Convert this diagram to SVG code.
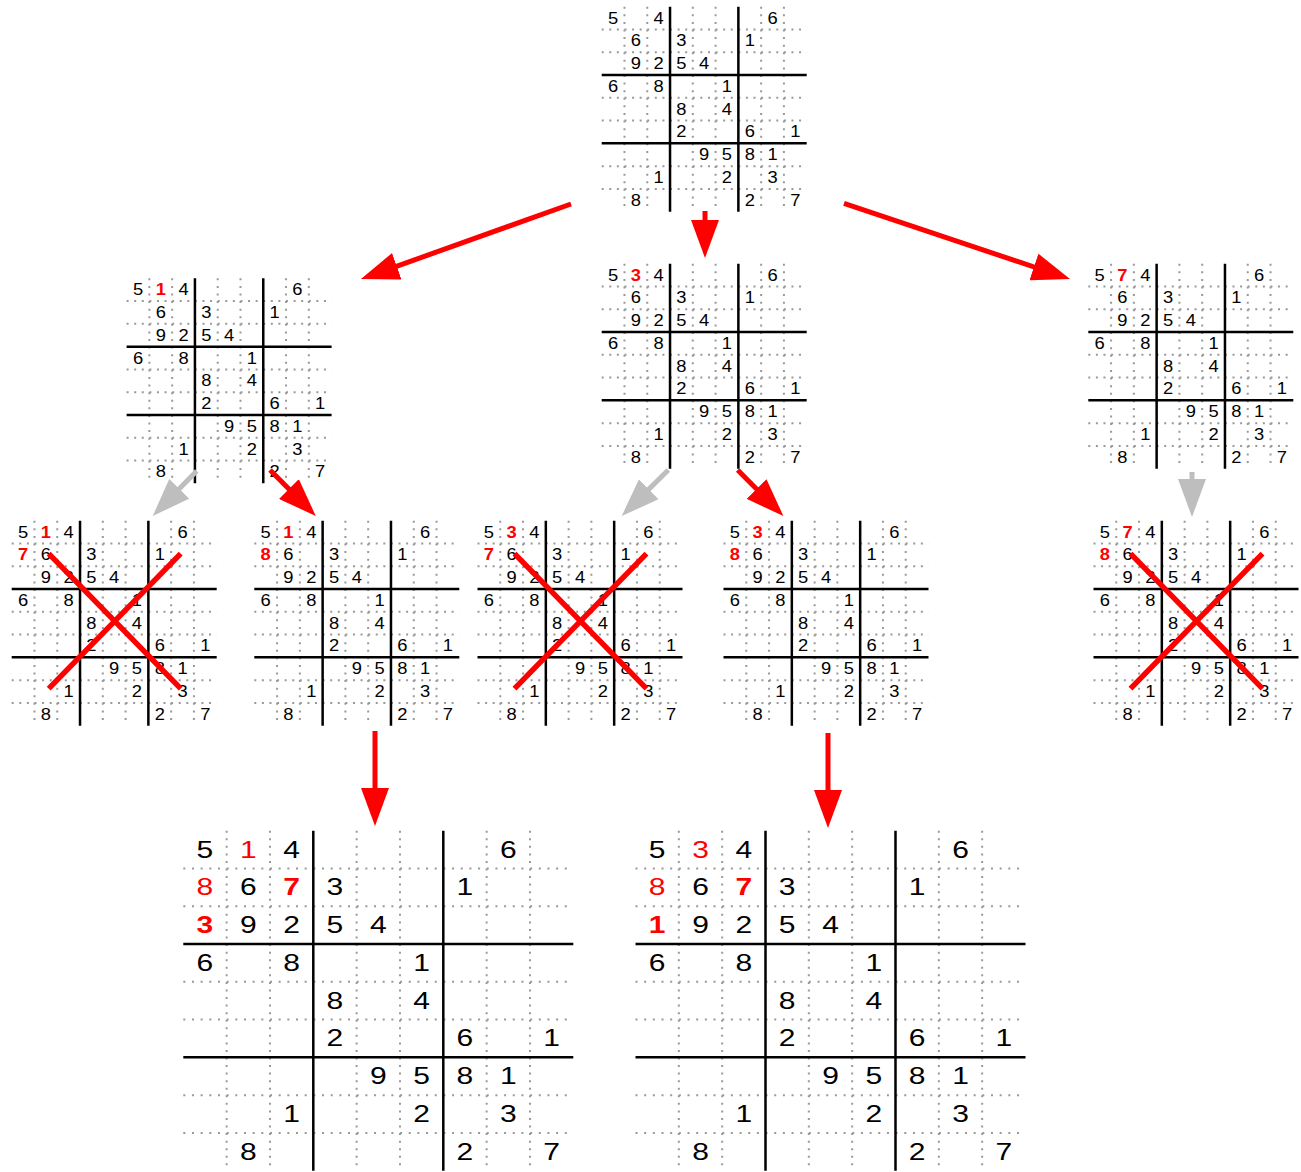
<svg xmlns="http://www.w3.org/2000/svg" width="1301" height="1172" viewBox="0 0 1301 1172">
<style>
.dot{fill:none;stroke:#999;stroke-width:2}
.ds{stroke-dasharray:2 5.59}
.dh{stroke-dasharray:2 6.67}
.dv{stroke-dasharray:2 5.56}
.thick{fill:none;stroke:#000;stroke-width:2.5}
text{font-family:"Liberation Sans",Arial,sans-serif;text-anchor:middle;dominant-baseline:central;fill:#000}
.r{fill:#f00}
.b{font-weight:bold}
.x{stroke:#f00;stroke-width:5.5;fill:none}
.ar{stroke:#f00;stroke-width:5;fill:none;marker-end:url(#hr)}
.ag{stroke:#bebebe;stroke-width:5;fill:none;marker-end:url(#hg)}
.sm text{font-size:16px}
.bg text{font-size:23px}
</style>
<defs>
<marker id="hr" markerUnits="userSpaceOnUse" markerWidth="38" markerHeight="28" viewBox="0 0 38 28" refX="30" refY="14" orient="auto"><path d="M0 0L38 14L0 28z" fill="#f00"/></marker>
<marker id="hg" markerUnits="userSpaceOnUse" markerWidth="38" markerHeight="28" viewBox="0 0 38 28" refX="30" refY="14" orient="auto"><path d="M0 0L38 14L0 28z" fill="#bebebe"/></marker>
<g id="gridS">
<path class="dot ds" d="M0 22.78H205M0 45.56H205M0 91.11H205M0 113.89H205M0 159.44H205M0 182.22H205M22.78 0V205M45.56 0V205M91.11 0V205M113.89 0V205M159.44 0V205M182.22 0V205"/>
<path class="thick" d="M0 68.33H205M0 136.67H205M68.33 0V205M136.67 0V205"/>
</g>
<g id="gridB">
<path class="dot dh" d="M0 37.78H390M0 75.56H390M0 151.11H390M0 188.89H390M0 264.44H390M0 302.22H390"/>
<path class="dot dv" d="M43.33 0V340M86.67 0V340M173.33 0V340M216.67 0V340M303.33 0V340M346.67 0V340"/>
<path class="thick" d="M0 113.33H390M0 226.67H390M130 0V340M260 0V340"/>
</g>
<path id="xx" class="x" d="M37 33L169 168M37 168L169 33"/>
<g id="digitsS" class="sm">
<text x="11.39" y="11.39" textLength="10.2" lengthAdjust="spacingAndGlyphs">5</text><text x="56.94" y="11.39" textLength="10.2" lengthAdjust="spacingAndGlyphs">4</text><text x="170.83" y="11.39" textLength="10.2" lengthAdjust="spacingAndGlyphs">6</text>
<text x="34.17" y="34.17" textLength="10.2" lengthAdjust="spacingAndGlyphs">6</text><text x="79.72" y="34.17" textLength="10.2" lengthAdjust="spacingAndGlyphs">3</text><text x="148.06" y="34.17" textLength="10.2" lengthAdjust="spacingAndGlyphs">1</text>
<text x="34.17" y="56.94" textLength="10.2" lengthAdjust="spacingAndGlyphs">9</text><text x="56.94" y="56.94" textLength="10.2" lengthAdjust="spacingAndGlyphs">2</text><text x="79.72" y="56.94" textLength="10.2" lengthAdjust="spacingAndGlyphs">5</text><text x="102.5" y="56.94" textLength="10.2" lengthAdjust="spacingAndGlyphs">4</text>
<text x="11.39" y="79.72" textLength="10.2" lengthAdjust="spacingAndGlyphs">6</text><text x="56.94" y="79.72" textLength="10.2" lengthAdjust="spacingAndGlyphs">8</text><text x="125.28" y="79.72" textLength="10.2" lengthAdjust="spacingAndGlyphs">1</text>
<text x="79.72" y="102.5" textLength="10.2" lengthAdjust="spacingAndGlyphs">8</text><text x="125.28" y="102.5" textLength="10.2" lengthAdjust="spacingAndGlyphs">4</text>
<text x="79.72" y="125.28" textLength="10.2" lengthAdjust="spacingAndGlyphs">2</text><text x="148.06" y="125.28" textLength="10.2" lengthAdjust="spacingAndGlyphs">6</text><text x="193.61" y="125.28" textLength="10.2" lengthAdjust="spacingAndGlyphs">1</text>
<text x="102.5" y="148.06" textLength="10.2" lengthAdjust="spacingAndGlyphs">9</text><text x="125.28" y="148.06" textLength="10.2" lengthAdjust="spacingAndGlyphs">5</text><text x="148.06" y="148.06" textLength="10.2" lengthAdjust="spacingAndGlyphs">8</text><text x="170.83" y="148.06" textLength="10.2" lengthAdjust="spacingAndGlyphs">1</text>
<text x="56.94" y="170.83" textLength="10.2" lengthAdjust="spacingAndGlyphs">1</text><text x="125.28" y="170.83" textLength="10.2" lengthAdjust="spacingAndGlyphs">2</text><text x="170.83" y="170.83" textLength="10.2" lengthAdjust="spacingAndGlyphs">3</text>
<text x="34.17" y="193.61" textLength="10.2" lengthAdjust="spacingAndGlyphs">8</text><text x="148.06" y="193.61" textLength="10.2" lengthAdjust="spacingAndGlyphs">2</text><text x="193.61" y="193.61" textLength="10.2" lengthAdjust="spacingAndGlyphs">7</text>
</g>
<g id="digitsB" class="bg">
<text x="21.67" y="18.89" textLength="16.7" lengthAdjust="spacingAndGlyphs">5</text><text x="108.33" y="18.89" textLength="16.7" lengthAdjust="spacingAndGlyphs">4</text><text x="325" y="18.89" textLength="16.7" lengthAdjust="spacingAndGlyphs">6</text>
<text x="65" y="56.67" textLength="16.7" lengthAdjust="spacingAndGlyphs">6</text><text x="151.67" y="56.67" textLength="16.7" lengthAdjust="spacingAndGlyphs">3</text><text x="281.67" y="56.67" textLength="16.7" lengthAdjust="spacingAndGlyphs">1</text>
<text x="65" y="94.44" textLength="16.7" lengthAdjust="spacingAndGlyphs">9</text><text x="108.33" y="94.44" textLength="16.7" lengthAdjust="spacingAndGlyphs">2</text><text x="151.67" y="94.44" textLength="16.7" lengthAdjust="spacingAndGlyphs">5</text><text x="195" y="94.44" textLength="16.7" lengthAdjust="spacingAndGlyphs">4</text>
<text x="21.67" y="132.22" textLength="16.7" lengthAdjust="spacingAndGlyphs">6</text><text x="108.33" y="132.22" textLength="16.7" lengthAdjust="spacingAndGlyphs">8</text><text x="238.33" y="132.22" textLength="16.7" lengthAdjust="spacingAndGlyphs">1</text>
<text x="151.67" y="170" textLength="16.7" lengthAdjust="spacingAndGlyphs">8</text><text x="238.33" y="170" textLength="16.7" lengthAdjust="spacingAndGlyphs">4</text>
<text x="151.67" y="207.78" textLength="16.7" lengthAdjust="spacingAndGlyphs">2</text><text x="281.67" y="207.78" textLength="16.7" lengthAdjust="spacingAndGlyphs">6</text><text x="368.33" y="207.78" textLength="16.7" lengthAdjust="spacingAndGlyphs">1</text>
<text x="195" y="245.56" textLength="16.7" lengthAdjust="spacingAndGlyphs">9</text><text x="238.33" y="245.56" textLength="16.7" lengthAdjust="spacingAndGlyphs">5</text><text x="281.67" y="245.56" textLength="16.7" lengthAdjust="spacingAndGlyphs">8</text><text x="325" y="245.56" textLength="16.7" lengthAdjust="spacingAndGlyphs">1</text>
<text x="108.33" y="283.33" textLength="16.7" lengthAdjust="spacingAndGlyphs">1</text><text x="238.33" y="283.33" textLength="16.7" lengthAdjust="spacingAndGlyphs">2</text><text x="325" y="283.33" textLength="16.7" lengthAdjust="spacingAndGlyphs">3</text>
<text x="65" y="321.11" textLength="16.7" lengthAdjust="spacingAndGlyphs">8</text><text x="281.67" y="321.11" textLength="16.7" lengthAdjust="spacingAndGlyphs">2</text><text x="368.33" y="321.11" textLength="16.7" lengthAdjust="spacingAndGlyphs">7</text>
</g>
</defs>
<rect width="1301" height="1172" fill="#fff"/>

<g id="g0" transform="translate(601.7,6.7)">
<use href="#gridS"/><use href="#digitsS"/>
</g>

<g id="g1" transform="translate(126.6,278.3)">
<use href="#gridS"/><use href="#digitsS"/>
<g class="sm"><text class="r b" x="34.17" y="11.39" textLength="10.2" lengthAdjust="spacingAndGlyphs">1</text></g>
</g>

<g id="g2" transform="translate(601.7,263.7)">
<use href="#gridS"/><use href="#digitsS"/>
<g class="sm"><text class="r b" x="34.17" y="11.39" textLength="10.2" lengthAdjust="spacingAndGlyphs">3</text></g>
</g>

<g id="g3" transform="translate(1088.3,263.7)">
<use href="#gridS"/><use href="#digitsS"/>
<g class="sm"><text class="r b" x="34.17" y="11.39" textLength="10.2" lengthAdjust="spacingAndGlyphs">7</text></g>
</g>

<g id="g4" transform="translate(11.7,520.7)">
<use href="#gridS"/><use href="#digitsS"/>
<g class="sm"><text class="r b" x="34.17" y="11.39" textLength="10.2" lengthAdjust="spacingAndGlyphs">1</text><text class="r b" x="11.39" y="34.17" textLength="10.2" lengthAdjust="spacingAndGlyphs">7</text></g>
<use href="#xx"/>
</g>

<g id="g5" transform="translate(254.3,520.7)">
<use href="#gridS"/><use href="#digitsS"/>
<g class="sm"><text class="r b" x="34.17" y="11.39" textLength="10.2" lengthAdjust="spacingAndGlyphs">1</text><text class="r b" x="11.39" y="34.17" textLength="10.2" lengthAdjust="spacingAndGlyphs">8</text></g>
</g>

<g id="g6" transform="translate(477.5,520.7)">
<use href="#gridS"/><use href="#digitsS"/>
<g class="sm"><text class="r b" x="34.17" y="11.39" textLength="10.2" lengthAdjust="spacingAndGlyphs">3</text><text class="r b" x="11.39" y="34.17" textLength="10.2" lengthAdjust="spacingAndGlyphs">7</text></g>
<use href="#xx"/>
</g>

<g id="g7" transform="translate(723.5,520.7)">
<use href="#gridS"/><use href="#digitsS"/>
<g class="sm"><text class="r b" x="34.17" y="11.39" textLength="10.2" lengthAdjust="spacingAndGlyphs">3</text><text class="r b" x="11.39" y="34.17" textLength="10.2" lengthAdjust="spacingAndGlyphs">8</text></g>
</g>

<g id="g8" transform="translate(1093.5,520.7)">
<use href="#gridS"/><use href="#digitsS"/>
<g class="sm"><text class="r b" x="34.17" y="11.39" textLength="10.2" lengthAdjust="spacingAndGlyphs">7</text><text class="r b" x="11.39" y="34.17" textLength="10.2" lengthAdjust="spacingAndGlyphs">8</text></g>
<use href="#xx"/>
</g>

<g id="b1" transform="translate(183.3,830.7)">
<use href="#gridB"/><use href="#digitsB"/>
<g class="bg"><text class="r" x="65" y="18.89" textLength="16.7" lengthAdjust="spacingAndGlyphs">1</text><text class="r" x="21.67" y="56.67" textLength="16.7" lengthAdjust="spacingAndGlyphs">8</text><text class="r b" x="108.33" y="56.67" textLength="16.7" lengthAdjust="spacingAndGlyphs">7</text><text class="r b" x="21.67" y="94.44" textLength="16.7" lengthAdjust="spacingAndGlyphs">3</text></g>
</g>

<g id="b2" transform="translate(635.5,830.7)">
<use href="#gridB"/><use href="#digitsB"/>
<g class="bg"><text class="r" x="65" y="18.89" textLength="16.7" lengthAdjust="spacingAndGlyphs">3</text><text class="r" x="21.67" y="56.67" textLength="16.7" lengthAdjust="spacingAndGlyphs">8</text><text class="r b" x="108.33" y="56.67" textLength="16.7" lengthAdjust="spacingAndGlyphs">7</text><text class="r b" x="21.67" y="94.44" textLength="16.7" lengthAdjust="spacingAndGlyphs">1</text></g>
</g>

<g id="connectors">
<path class="ar" d="M571 204L368.5 276.3"/>
<path class="ar" d="M705 211V250"/>
<path class="ar" d="M844 203.3L1062.4 276.5"/>
<path class="ag" d="M196.7 471L158.3 510.3"/>
<path class="ar" d="M270 470L310.1 510.3"/>
<path class="ag" d="M668.3 470L627.4 510.4"/>
<path class="ar" d="M737.7 470L777.7 510.3"/>
<path class="ag" d="M1192 472V509"/>
<path class="ar" d="M375 731V818"/>
<path class="ar" d="M828 733V820"/>
</g>
</svg>
